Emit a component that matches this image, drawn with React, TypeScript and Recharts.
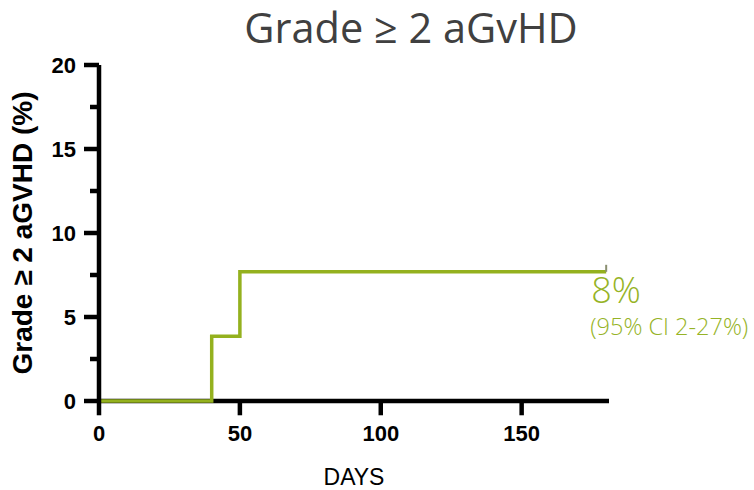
import { LineChart, Line, XAxis, YAxis, ReferenceLine } from 'recharts';

const days = [0, 40, 50, 180];
const incidence = [0, 3.85, 7.69, 7.69];
const xTicks = [0, 50, 100, 150];
const yTicks = [0, 2.5, 5, 7.5, 10, 12.5, 15, 17.5, 20];
const endLabel = '8%';
const endCi = '(95% CI 2-27%)';

const data = days.map((d, i) => ({ day: d, value: incidence[i] }));

const GREEN = '#94b11e';
const TEXT_GREEN = '#96b326';
const AXIS_W = 4.5;
const TICK_SIZE = 14;
// x tick marks hang below the axis by ~14px, i.e. ~0.85 y units
const X_TICK_DROP = -0.85;
const FONT = "'Liberation Sans', Arial, sans-serif";

const YTick = (props: any) => {
  const { x, y, payload } = props;
  const ax = x + TICK_SIZE + 9;
  const major = payload.value % 5 === 0;
  return (
    <g>
      <line x1={ax - (major ? 15 : 9)} x2={ax} y1={y} y2={y} stroke="#000" strokeWidth={AXIS_W} />
      {major && (
        <text x={x} y={y} dy="0.36em" textAnchor="end" fontFamily={FONT} fontWeight="bold" fontSize={22} fill="#000">
          {payload.value}
        </text>
      )}
    </g>
  );
};

export default function App() {
  const last = data.length - 1;
  return (
    <div style={{ position: 'absolute', left: 0, top: 0, width: 754, height: 490, background: '#fff' }}>
      <svg width={754} height={490} style={{ position: 'absolute', left: 0, top: 0 }}>
        <text x={411} y={43} textAnchor="middle" fontFamily="'Open Sans', sans-serif" fontSize={41.5} fill="#404040">
          Grade ≥ 2 aGvHD
        </text>
      </svg>
      <div style={{ position: 'absolute', left: 0, top: 0 }}>
        <LineChart width={754} height={490} data={data} margin={{ top: 65, right: 145, left: 0, bottom: 0 }}>
          <XAxis
            dataKey="day"
            type="number"
            domain={[0, 181]}
            ticks={xTicks}
            interval={0}
            height={89}
            axisLine={false}
            tickLine={false}
            tickSize={TICK_SIZE}
            tickMargin={10}
            tick={{ fill: '#000', fontSize: 22, fontWeight: 'bold', fontFamily: FONT }}
            label={{
              value: 'DAYS',
              position: 'insideBottom',
              offset: 5,
              fill: '#000',
              fontSize: 23,
              fontFamily: FONT,
            }}
          />
          <YAxis
            type="number"
            domain={[0, 20]}
            ticks={yTicks}
            interval={0}
            width={99}
            axisLine={{ stroke: '#000', strokeWidth: AXIS_W }}
            tickLine={false}
            tickSize={TICK_SIZE}
            tickMargin={9}
            tick={<YTick />}
            label={{
              value: 'Grade ≥ 2 aGVHD (%)',
              angle: -90,
              position: 'insideLeft',
              offset: 22,
              fill: '#000',
              fontSize: 28,
              fontWeight: 'bold',
              fontFamily: FONT,
              style: { textAnchor: 'middle' },
            }}
          />
          {/* x axis line, under the curve so the green run at 0 shows on it */}
          <ReferenceLine y={0} stroke="#000" strokeWidth={AXIS_W} zIndex={300} />
          {/* x tick marks, drawn as segments in a high layer */}
          {xTicks.map((t) => (
            <ReferenceLine
              key={'xt' + t}
              segment={[
                { x: t, y: 0 },
                { x: t, y: X_TICK_DROP },
              ]}
              ifOverflow="visible"
              stroke="#000"
              strokeWidth={AXIS_W}
              zIndex={2500}
            />
          ))}
          <Line
            type="stepAfter"
            dataKey="value"
            stroke={GREEN}
            strokeWidth={3.5}
            isAnimationActive={false}
            dot={(p: any) =>
              p.index === last ? (
                <line key="censor" x1={p.cx} x2={p.cx} y1={p.cy} y2={p.cy - 7} stroke="#8a8f70" strokeWidth={2} />
              ) : (
                <g key={'d' + p.index} />
              )
            }
            label={(p: any) =>
              p.index === last ? (
                <g key="end-label" fontFamily="'Open Sans', sans-serif" fontWeight={300} fill={TEXT_GREEN}>
                  <text x={p.x - 15} y={p.y + 31} fontSize={36}>
                    {endLabel}
                  </text>
                  <text x={p.x - 16} y={p.y + 63} fontSize={23.5}>
                    {endCi}
                  </text>
                </g>
              ) : (
                <g key={'l' + p.index} />
              )
            }
          />
        </LineChart>
      </div>
    </div>
  );
}
